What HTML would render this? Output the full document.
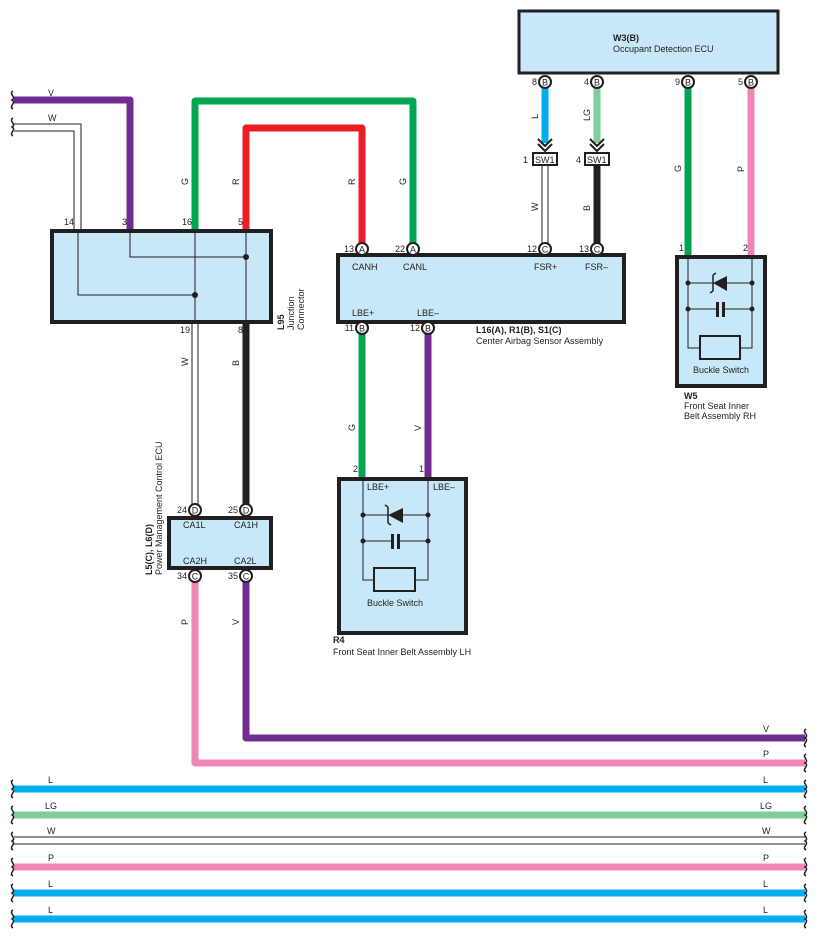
<!DOCTYPE html>
<html><head><meta charset="utf-8"><style>
html,body{margin:0;padding:0;background:#fff;}
svg{display:block;font-family:"Liberation Sans",sans-serif;}
text{font-size:9px;fill:#231f20;}
.b{font-weight:bold;}
.pl{font-size:9px;}
</style></head><body>
<svg width="818" height="941" viewBox="0 0 818 941" xmlns="http://www.w3.org/2000/svg">
<defs>
<g id="sq"><path d="M0,-9 C-5,-6 4,-3 -1,0 C4,3 -5,6 0,9" fill="none" stroke="#231f20" stroke-width="1.5"/></g>
</defs>
<g fill="none" stroke-linejoin="round">
<path d="M14,100 H130 V230" stroke="#6f2c91" stroke-width="7"/>
<path d="M14,124 H81 V230 M14,131 H74 V230" stroke="#231f20" stroke-width="1"/>
<path d="M195,230 V101 H413 V249" stroke="#00a651" stroke-width="7"/>
<path d="M246,230 V128 H362 V249" stroke="#ed1c24" stroke-width="7"/>
<path d="M545,88 V143" stroke="#00aeef" stroke-width="7"/>
<path d="M597,88 V143" stroke="#80cc9c" stroke-width="7"/>
<path d="M688,88 V256" stroke="#00a651" stroke-width="7"/>
<path d="M751,88 V256" stroke="#f085b8" stroke-width="7"/>
<path d="M538,139 L545,146 L552,139 M538,144 L545,151 L552,144 M590,139 L597,146 L604,139 M590,144 L597,151 L604,144" stroke="#231f20" stroke-width="2"/>
<path d="M542,166 V243 M548,166 V243" stroke="#231f20" stroke-width="1"/>
<path d="M597,166 V243" stroke="#231f20" stroke-width="7"/>
<path d="M192,322 V504 M198,322 V504" stroke="#231f20" stroke-width="1"/>
<path d="M246,322 V504" stroke="#231f20" stroke-width="7"/>
<path d="M362,334 V478" stroke="#00a651" stroke-width="7"/>
<path d="M428,334 V478" stroke="#6f2c91" stroke-width="7"/>
<path d="M195,582 V763 H805" stroke="#f085b8" stroke-width="7"/>
<path d="M246,582 V738 H805" stroke="#6f2c91" stroke-width="7"/>
<path d="M14,789 H805" stroke="#00aeef" stroke-width="7"/>
<path d="M14,815 H805" stroke="#80cc9c" stroke-width="7"/>
<path d="M14,837 H805 M14,844 H805" stroke="#231f20" stroke-width="1"/>
<path d="M14,867 H805" stroke="#f085b8" stroke-width="7"/>
<path d="M14,893 H805" stroke="#00aeef" stroke-width="7"/>
<path d="M14,919 H805" stroke="#00aeef" stroke-width="7"/>
</g>
<use href="#sq" x="13" y="100"/><use href="#sq" x="13" y="127"/>
<use href="#sq" x="13" y="789"/><use href="#sq" x="13" y="815"/><use href="#sq" x="13" y="841"/><use href="#sq" x="13" y="867"/><use href="#sq" x="13" y="893"/><use href="#sq" x="13" y="919"/>
<use href="#sq" x="806" y="738"/><use href="#sq" x="806" y="763"/><use href="#sq" x="806" y="789"/><use href="#sq" x="806" y="815"/><use href="#sq" x="806" y="841"/><use href="#sq" x="806" y="867"/><use href="#sq" x="806" y="893"/><use href="#sq" x="806" y="919"/>

<rect x="52" y="231" width="219" height="91" fill="#c7e8f8" stroke="#231f20" stroke-width="4"/>
<g stroke="#231f20" stroke-width="1" fill="none">
<path d="M78,231 V295 H195 M130,231 V257 H246 M195,231 V322 M246,231 V322"/>
</g>
<circle cx="195" cy="295" r="3" fill="#231f20"/><circle cx="246" cy="257" r="3" fill="#231f20"/>

<rect x="338" y="255" width="286" height="67" fill="#c7e8f8" stroke="#231f20" stroke-width="4"/>
<rect x="519" y="11" width="259" height="62" fill="#c7e8f8" stroke="#231f20" stroke-width="3"/>
<rect x="169" y="518" width="102" height="50" fill="#c7e8f8" stroke="#231f20" stroke-width="4"/>

<!-- R4 -->
<rect x="339" y="479" width="127" height="154" fill="#c7e8f8" stroke="#231f20" stroke-width="4"/>
<g stroke="#231f20" stroke-width="1" fill="none">
<path d="M363,481 V580 H374 M428,481 V580 H415 M363,515 H428 M363,541 H391 M400,541 H428"/>
</g>
<rect x="374" y="568" width="41" height="23" fill="#c7e8f8" stroke="#231f20" stroke-width="2"/>
<polygon points="403,508 403,523 388,515" fill="#231f20"/><path d="M388,507 V523 M388,507 l-3,-2 M388,523 l3,2" stroke="#231f20" stroke-width="1.5" fill="none"/>
<rect x="391" y="534" width="3" height="15" fill="#231f20"/><rect x="397" y="534" width="3" height="15" fill="#231f20"/>
<circle cx="363" cy="515" r="2.5" fill="#231f20"/><circle cx="428" cy="515" r="2.5" fill="#231f20"/><circle cx="363" cy="541" r="2.5" fill="#231f20"/><circle cx="428" cy="541" r="2.5" fill="#231f20"/>

<!-- W5 -->
<rect x="677" y="257" width="88" height="129" fill="#c7e8f8" stroke="#231f20" stroke-width="4"/>
<g stroke="#231f20" stroke-width="1" fill="none">
<path d="M688,259 V348 H700 M752,259 V348 H740 M688,283 H752 M688,309 H716 M725,309 H752"/>
</g>
<rect x="700" y="336" width="40" height="23" fill="#c7e8f8" stroke="#231f20" stroke-width="2"/>
<polygon points="727,276 727,291 713,283" fill="#231f20"/><path d="M713,275 V291 M713,275 l3,-2 M713,291 l-3,2" stroke="#231f20" stroke-width="1.5" fill="none"/>
<rect x="716" y="302" width="3" height="15" fill="#231f20"/><rect x="722" y="302" width="3" height="15" fill="#231f20"/>
<circle cx="688" cy="283" r="2.5" fill="#231f20"/><circle cx="752" cy="283" r="2.5" fill="#231f20"/><circle cx="688" cy="309" r="2.5" fill="#231f20"/><circle cx="752" cy="309" r="2.5" fill="#231f20"/>

<rect x="533" y="153" width="24" height="12" fill="#fff" stroke="#231f20" stroke-width="2"/>
<rect x="585" y="153" width="24" height="12" fill="#fff" stroke="#231f20" stroke-width="2"/>
<text x="535" y="163">SW1</text><text x="587" y="163">SW1</text>
<text x="523" y="163">1</text><text x="576" y="163">4</text>

<g fill="#fff" stroke="#231f20" stroke-width="2">
<circle cx="545" cy="82" r="6"/><circle cx="597" cy="82" r="6"/><circle cx="688" cy="82" r="6"/><circle cx="751" cy="82" r="6"/>
<circle cx="362" cy="249" r="6"/><circle cx="413" cy="249" r="6"/><circle cx="545" cy="249" r="6"/><circle cx="597" cy="249" r="6"/>
<circle cx="362" cy="328" r="6"/><circle cx="428" cy="328" r="6"/>
<circle cx="195" cy="510" r="6"/><circle cx="246" cy="510" r="6"/>
<circle cx="195" cy="576" r="6"/><circle cx="246" cy="576" r="6"/>
</g>
<g text-anchor="middle">
<text class="pl" x="545" y="85.5">B</text><text class="pl" x="597" y="85.5">B</text><text class="pl" x="688" y="85.5">B</text><text class="pl" x="751" y="85.5">B</text>
<text class="pl" x="362" y="252.5">A</text><text class="pl" x="413" y="252.5">A</text><text class="pl" x="545" y="252.5">C</text><text class="pl" x="597" y="252.5">C</text>
<text class="pl" x="362" y="331.5">B</text><text class="pl" x="428" y="331.5">B</text>
<text class="pl" x="195" y="513.5">D</text><text class="pl" x="246" y="513.5">D</text>
<text class="pl" x="195" y="579.5">C</text><text class="pl" x="246" y="579.5">C</text>
</g>
<g text-anchor="end">
<text x="537" y="85">8</text><text x="589" y="85">4</text><text x="680" y="85">9</text><text x="743" y="85">5</text>
<text x="354" y="252">13</text><text x="405" y="252">22</text><text x="537" y="252">12</text><text x="589" y="252">13</text>
<text x="354" y="331">11</text><text x="420" y="331">12</text>
<text x="187" y="513">24</text><text x="238" y="513">25</text>
<text x="187" y="579">34</text><text x="238" y="579">35</text>
<text x="74" y="225">14</text><text x="127" y="225">3</text><text x="192" y="225">16</text><text x="243" y="225">5</text>
<text x="190" y="333">19</text><text x="243" y="333">8</text>
<text x="358" y="472">2</text><text x="424" y="472">1</text>
<text x="684" y="251">1</text><text x="748" y="251">2</text>
</g>
<text x="352" y="270">CANH</text><text x="403" y="270">CANL</text><text x="534" y="270">FSR+</text><text x="585" y="270">FSR–</text>
<text x="352" y="316">LBE+</text><text x="417" y="316">LBE–</text>
<text x="183" y="528">CA1L</text><text x="234" y="528">CA1H</text>
<text x="183" y="564">CA2H</text><text x="234" y="564">CA2L</text>
<text x="367" y="490">LBE+</text><text x="433" y="490">LBE–</text>
<text x="367" y="606">Buckle Switch</text><text x="693" y="373">Buckle Switch</text>
<text x="613" y="41" class="b">W3(B)</text><text x="613" y="52">Occupant Detection ECU</text>
<text x="476" y="333" class="b">L16(A), R1(B), S1(C)</text><text x="476" y="344">Center Airbag Sensor Assembly</text>
<text x="333" y="643" class="b">R4</text><text x="333" y="655">Front Seat Inner Belt Assembly LH</text>
<text x="684" y="399" class="b">W5</text><text x="684" y="409">Front Seat Inner</text><text x="684" y="419">Belt Assembly RH</text>
<g transform="translate(284,330) rotate(-90)"><text x="0" y="0" class="b">L95</text></g>
<g transform="translate(294,330) rotate(-90)"><text x="0" y="0">Junction</text></g>
<g transform="translate(304,330) rotate(-90)"><text x="0" y="0">Connector</text></g>
<g transform="translate(152,575) rotate(-90)"><text x="0" y="0" class="b">L5(C), L6(D)</text></g>
<g transform="translate(162,575) rotate(-90)"><text x="0" y="0">Power Management Control ECU</text></g>
<text x="48" y="96">V</text><text x="48" y="121">W</text>
<g transform="translate(188,185) rotate(-90)"><text>G</text></g>
<g transform="translate(239,185) rotate(-90)"><text>R</text></g>
<g transform="translate(355,185) rotate(-90)"><text>R</text></g>
<g transform="translate(406,185) rotate(-90)"><text>G</text></g>
<g transform="translate(538,119) rotate(-90)"><text>L</text></g>
<g transform="translate(590,121) rotate(-90)"><text>LG</text></g>
<g transform="translate(681,172) rotate(-90)"><text>G</text></g>
<g transform="translate(744,172) rotate(-90)"><text>P</text></g>
<g transform="translate(538,211) rotate(-90)"><text>W</text></g>
<g transform="translate(590,211) rotate(-90)"><text>B</text></g>
<g transform="translate(188,366) rotate(-90)"><text>W</text></g>
<g transform="translate(239,366) rotate(-90)"><text>B</text></g>
<g transform="translate(355,431) rotate(-90)"><text>G</text></g>
<g transform="translate(421,431) rotate(-90)"><text>V</text></g>
<g transform="translate(188,625) rotate(-90)"><text>P</text></g>
<g transform="translate(239,625) rotate(-90)"><text>V</text></g>
<text x="763" y="732">V</text><text x="763" y="757">P</text>
<text x="48" y="783">L</text><text x="45" y="809">LG</text><text x="47" y="834">W</text><text x="48" y="861">P</text><text x="48" y="887">L</text><text x="48" y="913">L</text>
<text x="763" y="783">L</text><text x="760" y="809">LG</text><text x="762" y="834">W</text><text x="763" y="861">P</text><text x="763" y="887">L</text><text x="763" y="913">L</text>
</svg>
</body></html>
